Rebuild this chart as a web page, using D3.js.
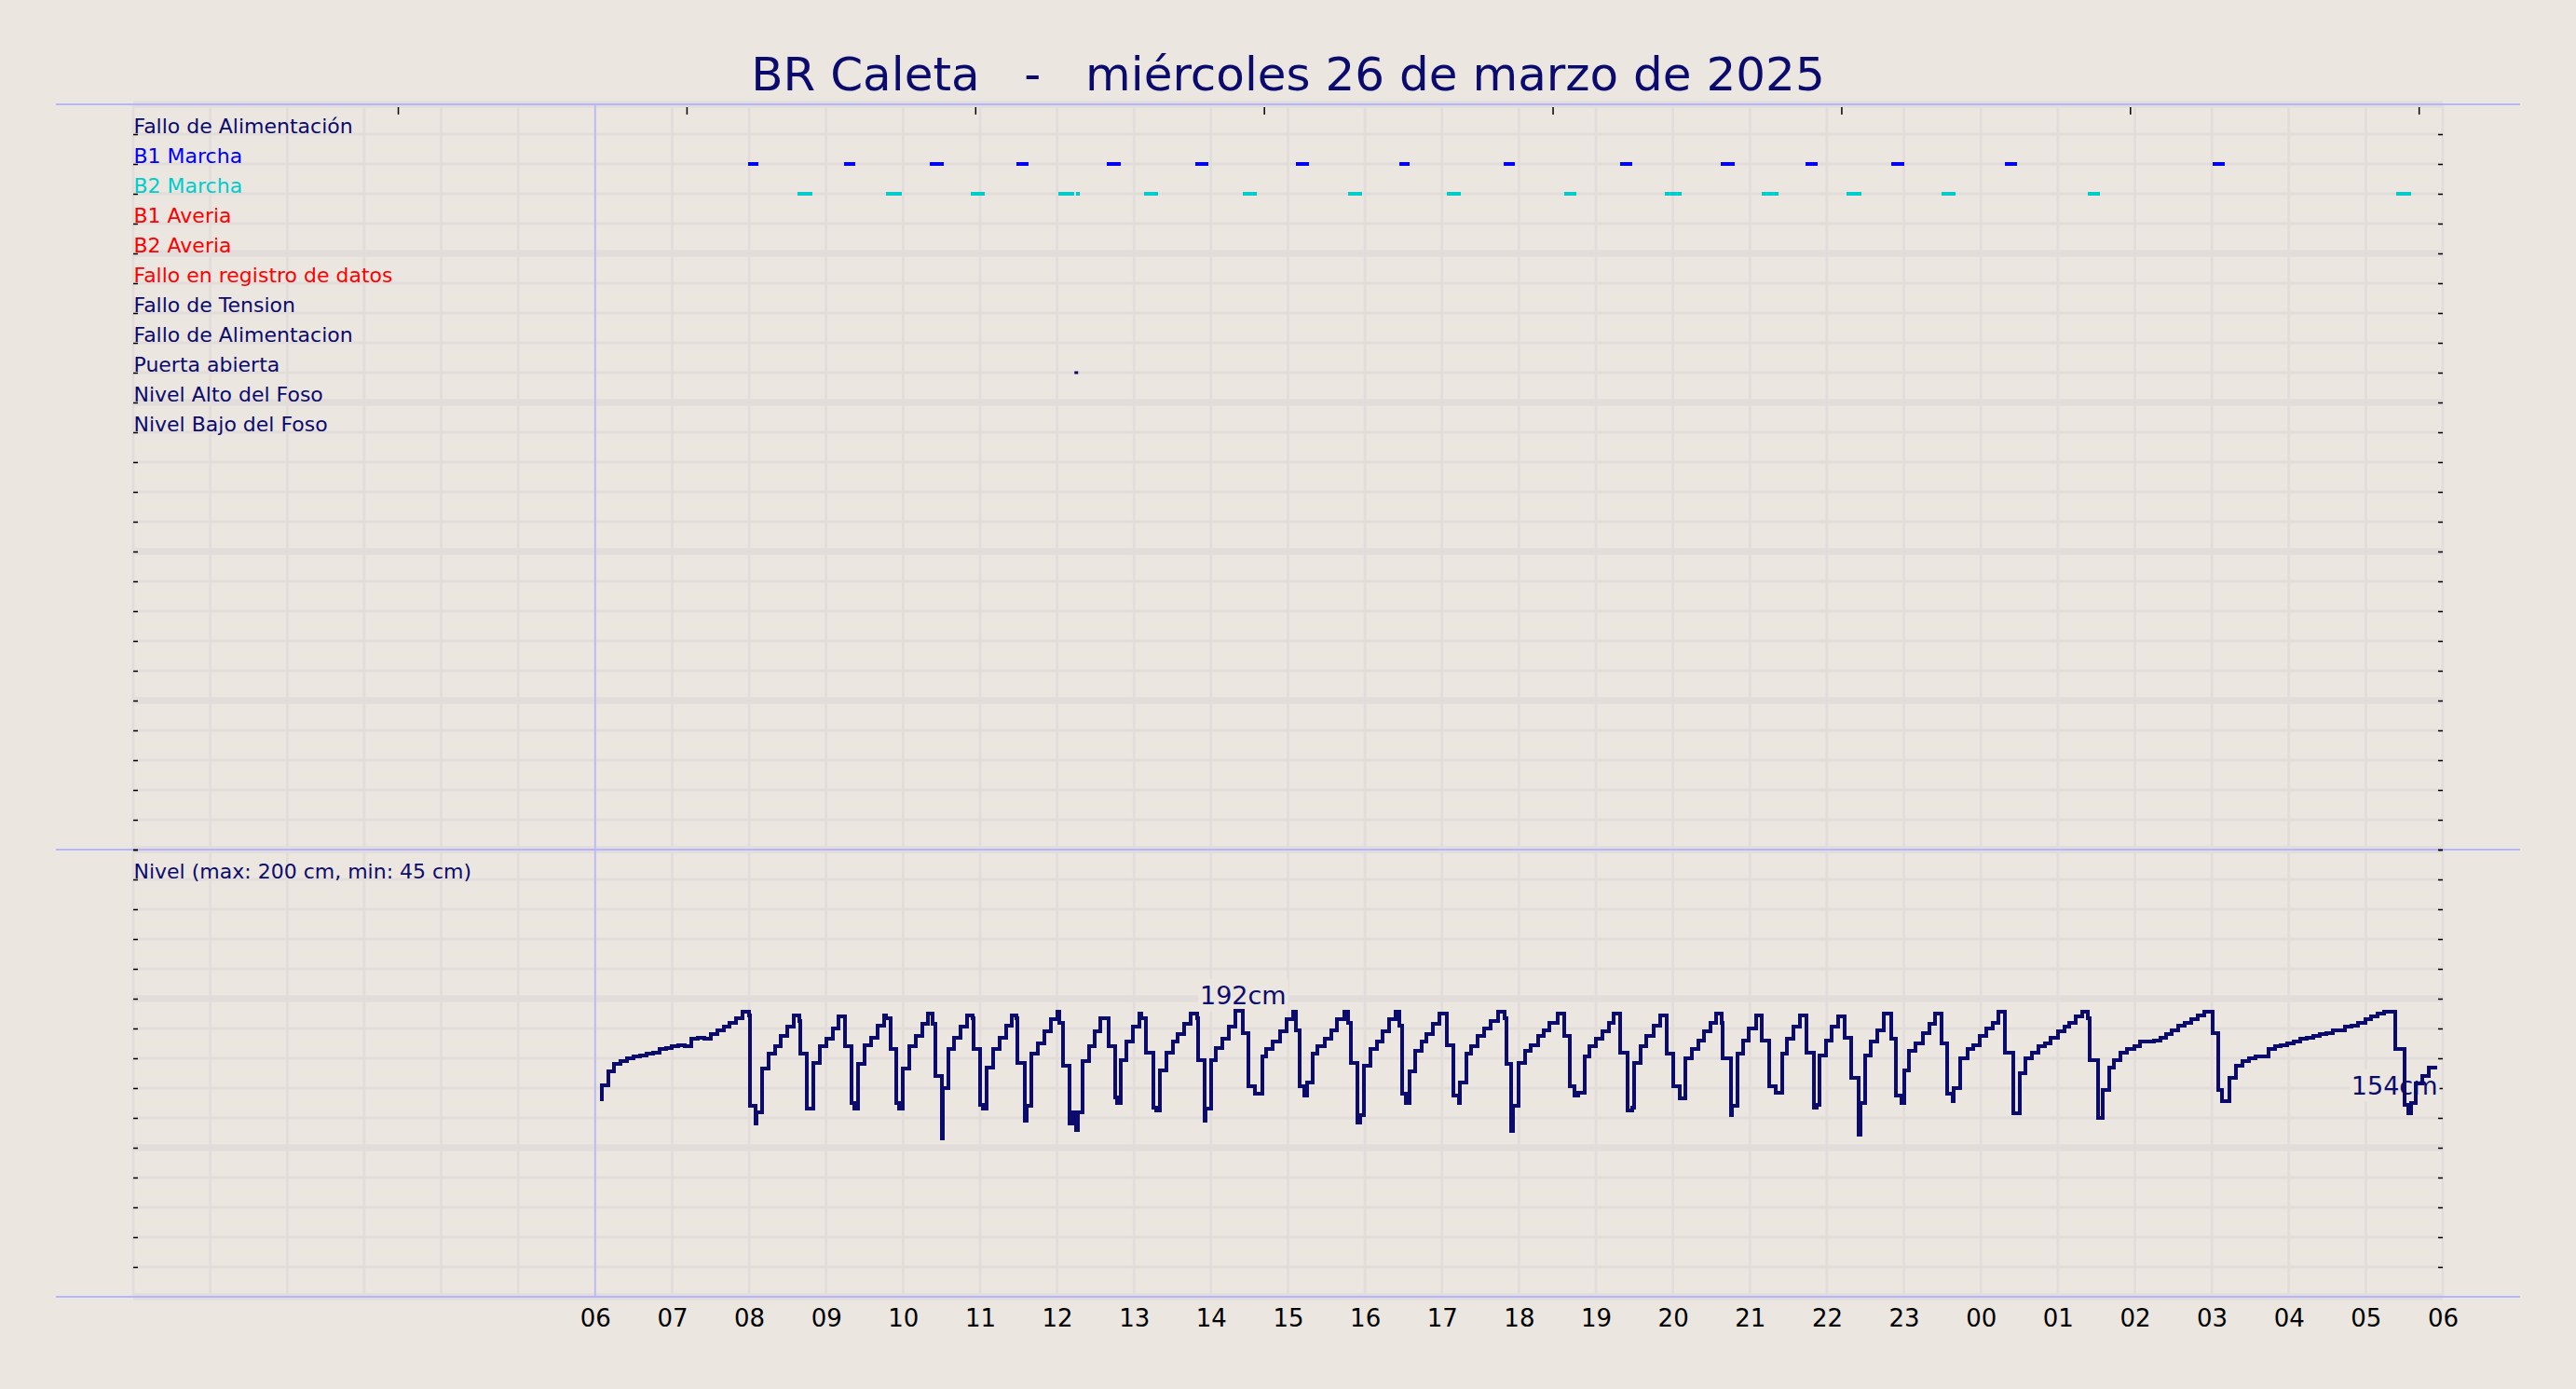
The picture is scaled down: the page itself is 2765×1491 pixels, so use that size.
<!DOCTYPE html>
<html>
<head>
<meta charset="utf-8">
<script src="https://cdn.jsdelivr.net/npm/d3@7"></script>
<style>
  body { margin: 0; background: #ebe6e0; }
  svg text { font-family: "DejaVu Sans", sans-serif; }
</style>
</head>
<body>
<div id="chart"></div>
<script>
// ---- data ----
var titleText = "BR Caleta   -   miércoles 26 de marzo de 2025";
var levelCaption = "Nivel (max: 200 cm, min: 45 cm)";

var signalNames = ["Fallo de Alimentación", "B1 Marcha", "B2 Marcha", "B1 Averia", "B2 Averia",
  "Fallo en registro de datos", "Fallo de Tension", "Fallo de Alimentacion", "Puerta abierta",
  "Nivel Alto del Foso", "Nivel Bajo del Foso"];
var signalRows = [24, 23, 22, 21, 20, 19, 18, 17, 16, 15, 14];
var signalColors = ["#0b0b6e", "#0000ff", "#00cccc", "#ff0000", "#ff0000",
  "#ff0000", "#0b0b6e", "#0b0b6e", "#0b0b6e", "#0b0b6e", "#0b0b6e"];

// pump runs (start, end)
var b1Runs = [["07:59","08:07"],["09:14","09:23"],["10:21","10:32"],["11:28","11:38"],["12:39","12:50"],
  ["13:48","13:58"],["15:06","15:16"],["16:27","16:35"],["17:48","17:57"],["19:19","19:28"],
  ["20:37","20:48"],["21:43","21:53"],["22:50","23:00"],["00:19","00:28"],["03:01","03:10"]];
var b2Runs = [["08:38","08:49"],["09:47","09:59"],["10:53","11:04"],["12:01","12:13"],["12:15","12:18"],
  ["13:08","13:19"],["14:25","14:36"],["15:47","15:58"],["17:04","17:15"],["18:35","18:45"],
  ["19:54","20:07"],["21:09","21:22"],["22:15","22:27"],["23:29","23:40"],["01:23","01:33"],
  ["05:24","05:35"]];
var doorEvents = ["12:15"];

var levelTimes = [
  "06:05","06:10","06:15","06:20","06:25","06:30","06:35","06:40","06:45","06:50","06:55",
  "07:00","07:05","07:10","07:15","07:20","07:25","07:30","07:35","07:40","07:45","07:50","07:55",
  "08:00","08:01","08:05","08:06","08:10","08:15","08:20","08:25","08:30","08:35","08:39","08:40","08:45","08:50","08:55",
  "09:00","09:05","09:10","09:15","09:20","09:22","09:25","09:30","09:35","09:40","09:45","09:47","09:50","09:55","09:57",
  "10:00","10:05","10:10","10:15","10:19","10:23","10:25","10:30","10:31","10:35","10:40","10:45","10:50","10:54","10:55",
  "11:00","11:02","11:05","11:10","11:15","11:20","11:25","11:28","11:29","11:35","11:36","11:40","11:45","11:50","11:55",
  "12:00","12:02","12:05","12:10","12:12","12:15","12:16","12:20","12:25","12:29","12:34","12:40","12:45","12:47","12:50","12:54","12:59",
  "13:04","13:06","13:09","13:15","13:17","13:20","13:25","13:30","13:34","13:39","13:44","13:49","13:50","13:55","13:56",
  "14:00","14:04","14:09","14:14","14:19","14:25","14:29","14:34","14:40","14:43","14:48","14:54","14:59",
  "15:04","15:06","15:09","15:13","15:15","15:19","15:23","15:29","15:34","15:38","15:44","15:47","15:49","15:54","15:56","15:59",
  "16:04","16:09","16:14","16:19","16:24","16:27","16:29","16:32","16:35","16:39","16:44","16:48","16:53","16:58",
  "17:04","17:09","17:13","17:14","17:19","17:23","17:28","17:33","17:38","17:44","17:49","17:50","17:54","17:55",
  "18:00","18:05","18:09","18:15","18:19","18:24","18:30","18:35","18:40","18:43","18:46","18:51","18:55",
  "19:00","19:05","19:10","19:14","19:19","19:25","19:28","19:30","19:35","19:39","19:45","19:50","19:55",
  "20:00","20:05","20:10","20:15","20:20","20:24","20:29","20:34","20:38","20:39","20:45","20:46","20:50","20:55","20:59",
  "21:05","21:09","21:15","21:20","21:25","21:29","21:34","21:39","21:44","21:50","21:52","21:54","21:59",
  "22:04","22:09","22:14","22:19","22:25","22:26","22:30","22:34","22:39","22:44","22:50","22:54","22:58",
  "23:00","23:04","23:09","23:15","23:20","23:24","23:29","23:34","23:38","23:39","23:44","23:50","23:54","23:59",
  "00:04","00:09","00:14","00:19","00:25","00:30","00:35","00:40","00:45","00:50","00:54",
  "01:00","01:05","01:09","01:14","01:19","01:23","01:25","01:31","01:35","01:40","01:44","01:49","01:54",
  "02:00","02:04","02:10","02:15","02:20","02:24","02:29","02:34","02:39","02:44","02:49","02:54",
  "03:01","03:05","03:08","03:14","03:19","03:24","03:29","03:34","03:39","03:44","03:49","03:54","03:59",
  "04:04","04:09","04:14","04:19","04:24","04:29","04:34","04:39","04:44","04:49","04:54",
  "05:00","05:04","05:09","05:14","05:19","05:23","05:30","05:33","05:35","05:39","05:44","05:49","05:56"];
var levelValues = [
  131,142,151,156,158,160,161,162,163,164,166,
  167,168,169,168,173,174,173,176,179,181,184,187,
  191,189,128,116,124,153,163,168,175,181,189,185,163,126,157,
  168,173,180,188,168,130,126,156,169,174,182,189,187,166,130,
  126,153,168,175,183,190,183,148,106,140,166,174,181,189,187,
  166,129,126,154,166,174,182,189,187,157,118,128,163,170,178,
  186,191,184,155,116,124,112,124,158,168,178,187,168,134,130,159,171,
  181,190,187,164,127,125,152,164,171,176,183,190,187,159,118,
  126,159,167,173,181,192,177,141,136,161,166,171,178,
  186,191,179,141,135,144,163,168,173,179,186,191,184,157,117,122,
  155,166,171,178,186,191,182,136,130,151,165,171,176,183,
  190,169,135,130,144,163,168,175,180,185,191,187,156,111,
  128,157,165,169,175,179,184,190,175,141,135,137,161,
  168,173,178,184,190,164,125,127,157,168,175,182,189,
  163,141,133,160,166,172,178,184,190,184,160,122,128,163,172,
  180,189,172,141,137,163,173,181,189,164,127,129,162,
  172,181,188,174,147,109,130,162,171,179,190,173,135,
  130,152,165,170,177,183,190,170,136,131,140,160,166,169,
  175,180,184,191,164,123,150,160,164,168,170,
  174,178,181,184,188,191,187,159,120,139,154,159,164,
  166,168,171,171,172,174,176,179,182,184,186,189,
  191,177,139,131,147,155,158,160,161,161,166,168,169,
  170,171,173,174,175,176,177,179,179,181,182,
  184,186,188,190,191,191,166,129,123,130,143,148,154];

var hourTicks = d3.range(6, 31);      // labelled hours (06 .. 06 next day)
var gridHours = d3.range(0, 31);
var topTickValues = d3.range(0, 8);

// ---- layout ----
var width = 2765, height = 1491;
var plotLeft = 143, plotRight = 2622;
var bg = "#ebe6e0", gridColor = "#e2dcda", frameColor = "#b4b4ff", navy = "#0b0b6e";

function toDate(hm) {
  var p = hm.split(":"), h = +p[0], m = +p[1];
  return new Date(2025, 2, h < 6 ? 27 : 26, h, m);
}
function hourDate(h) { return new Date(2025, 2, 26, h, 0); }

var x = d3.scaleTime()
  .domain([new Date(2025, 2, 26, 0, 0), new Date(2025, 2, 27, 6, 0)])
  .range([plotLeft, plotRight]);
var ySig = d3.scaleLinear().domain([0, 25]).range([912, 112]);
var yLevel = d3.scaleLinear().domain([0, 300]).range([1392, 912]);
var xTop = d3.scaleLinear().domain([-11 / 12, 8 - 11 / 12]).range([plotLeft, plotRight]);

var svg = d3.select("#chart").append("svg")
  .attr("width", width)
  .attr("height", height);

svg.append("rect").attr("width", width).attr("height", height).attr("fill", bg);

// vertical grid
svg.append("g").selectAll("line")
  .data(gridHours).enter().append("line")
  .attr("x1", function(d) { return x(hourDate(d)); })
  .attr("x2", function(d) { return x(hourDate(d)); })
  .attr("y1", 112).attr("y2", 1392)
  .attr("stroke", gridColor).attr("stroke-width", 2.7);

// horizontal grid, signal panel
svg.append("g").selectAll("line")
  .data(d3.range(0, 26)).enter().append("line")
  .attr("x1", plotLeft).attr("x2", plotRight)
  .attr("y1", function(d) { return ySig(d); })
  .attr("y2", function(d) { return ySig(d); })
  .attr("stroke", gridColor)
  .attr("stroke-width", function(d) { return d % 5 === 0 ? 7.5 : 3; });

// horizontal grid, level panel
svg.append("g").selectAll("line")
  .data(d3.range(0, 301, 20)).enter().append("line")
  .attr("x1", plotLeft).attr("x2", plotRight)
  .attr("y1", function(d) { return yLevel(d); })
  .attr("y2", function(d) { return yLevel(d); })
  .attr("stroke", gridColor)
  .attr("stroke-width", function(d) { return d % 100 === 0 ? 7.5 : 3; });

// frame lines
svg.append("g").selectAll("line")
  .data([ySig(25), ySig(0), yLevel(0)]).enter().append("line")
  .attr("x1", 60).attr("x2", 2705)
  .attr("y1", function(d) { return d; })
  .attr("y2", function(d) { return d; })
  .attr("stroke", frameColor).attr("stroke-width", 2);

svg.append("line")
  .attr("x1", x(hourDate(6))).attr("x2", x(hourDate(6)))
  .attr("y1", ySig(25)).attr("y2", yLevel(0))
  .attr("stroke", frameColor).attr("stroke-width", 1.5);

// ticks
function styleTicks(g) {
  g.select(".domain").remove();
  g.selectAll(".tick line").attr("stroke", "#000").attr("stroke-width", 1.5);
}
svg.append("g").attr("transform", "translate(" + plotLeft + ",0)")
  .call(d3.axisRight(ySig).tickValues(d3.range(0, 25)).tickSize(5).tickFormat(""))
  .call(styleTicks);
svg.append("g").attr("transform", "translate(" + plotRight + ",0)")
  .call(d3.axisLeft(ySig).tickValues(d3.range(0, 25)).tickSize(5).tickFormat(""))
  .call(styleTicks);
svg.append("g").attr("transform", "translate(" + plotLeft + ",0)")
  .call(d3.axisRight(yLevel).tickValues(d3.range(20, 301, 20)).tickSize(5).tickFormat(""))
  .call(styleTicks);
svg.append("g").attr("transform", "translate(" + plotRight + ",0)")
  .call(d3.axisLeft(yLevel).tickValues(d3.range(20, 301, 20)).tickSize(5).tickFormat(""))
  .call(styleTicks);
svg.append("g").attr("transform", "translate(0,115)")
  .call(d3.axisBottom(xTop).tickValues(topTickValues).tickSize(8).tickFormat(""))
  .call(styleTicks);

// hour labels
var xAxis = svg.append("g")
  .attr("transform", "translate(0," + yLevel(0) + ")")
  .call(d3.axisBottom(x).tickValues(hourTicks.map(hourDate)).tickSize(0).tickPadding(14)
    .tickFormat(d3.timeFormat("%H")));
xAxis.select(".domain").remove();
xAxis.selectAll("text")
  .attr("fill", "#000")
  .style("font-size", "26px")
  .style("font-family", "'DejaVu Sans', sans-serif");

// title
svg.append("text")
  .attr("x", width / 2).attr("y", 97)
  .attr("text-anchor", "middle")
  .style("white-space", "pre")
  .style("font-size", "50px")
  .attr("fill", navy)
  .text(titleText);

// signal labels
svg.append("g").selectAll("text")
  .data(signalNames).enter().append("text")
  .attr("x", plotLeft + 0.5)
  .attr("y", function(d, i) { return ySig(signalRows[i]) - 1; })
  .attr("fill", function(d, i) { return signalColors[i]; })
  .style("font-size", "22px")
  .text(function(d) { return d; });

svg.append("text")
  .attr("x", plotLeft + 0.5).attr("y", yLevel(300) + 31)
  .attr("fill", navy)
  .style("font-size", "22px")
  .text(levelCaption);

// pump run marks
function drawRuns(runs, row, color) {
  svg.append("g").selectAll("line")
    .data(runs).enter().append("line")
    .attr("x1", function(d) { return x(toDate(d[0])); })
    .attr("x2", function(d) { return x(toDate(d[1])); })
    .attr("y1", ySig(row)).attr("y2", ySig(row))
    .attr("stroke", color).attr("stroke-width", 3.2)
    .attr("shape-rendering", "crispEdges");
}
drawRuns(b1Runs, 23, "#0000ff");
drawRuns(b2Runs, 22, "#00cccc");

svg.append("g").selectAll("rect")
  .data(doorEvents).enter().append("rect")
  .attr("x", function(d) { return x(toDate(d)) - 2; })
  .attr("y", ySig(16) - 1.5)
  .attr("width", 4).attr("height", 3)
  .attr("fill", navy);

// level series
var level = levelTimes.map(function(t, i) { return { t: toDate(t), v: levelValues[i] }; });
var maxPt = level.reduce(function(a, b) { return b.v > a.v ? b : a; });
var lastPt = level[level.length - 1];

function note(px, py, anchor, label) {
  var g = svg.append("g");
  var t = g.append("text")
    .attr("x", px).attr("y", py)
    .attr("text-anchor", anchor)
    .attr("fill", navy)
    .style("font-size", "27px")
    .text(label);
  var b = t.node().getBBox();
  g.insert("rect", "text")
    .attr("x", b.x - 2).attr("y", b.y - 2)
    .attr("width", b.width + 4).attr("height", b.height + 4)
    .attr("fill", bg);
}
note(x(maxPt.t), yLevel(maxPt.v) - 7, "middle", maxPt.v + "cm");
note(x(lastPt.t), yLevel(lastPt.v) + 29, "end", lastPt.v + "cm");

var line = d3.line()
  .x(function(d) { return x(d.t); })
  .y(function(d) { return yLevel(d.v); })
  .curve(d3.curveStepBefore);

svg.append("path")
  .datum(level)
  .attr("d", line)
  .attr("fill", "none")
  .attr("stroke", navy)
  .attr("stroke-width", 4)
  .attr("stroke-linejoin", "miter")
  .attr("shape-rendering", "crispEdges");
</script>
</body>
</html>
